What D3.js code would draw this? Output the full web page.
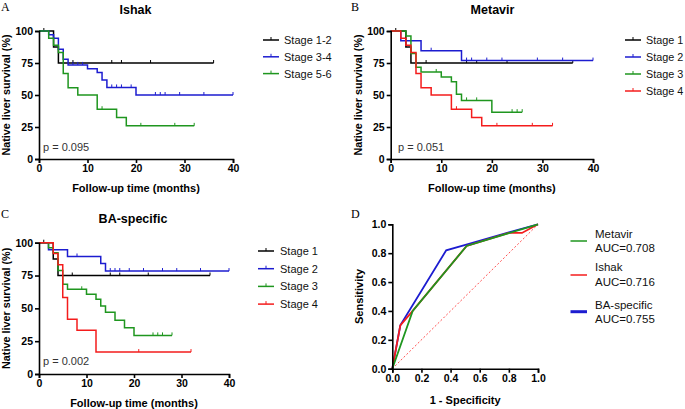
<!DOCTYPE html>
<html><head><meta charset="utf-8">
<script src="https://cdn.jsdelivr.net/npm/d3@7"></script>
<style>
body{margin:0;background:#fff;}
svg{display:block;font-family:"Liberation Sans",Arial,sans-serif;}
</style></head><body>
<svg id="c" width="685" height="409"></svg>
<script>
// ---------- DATA ----------
const kmXTicks = [0, 10, 20, 30, 40];
const kmYTicks = [0, 25, 50, 75, 100];
const rocTicks = [0, 0.2, 0.4, 0.6, 0.8, 1.0];

// Panel A: Ishak
const ishakNames = ["Stage 1-2", "Stage 3-4", "Stage 5-6"];
const ishak12Steps = [[0,100],[3,87.5],[4,75]];
const ishak12Censor = [1,7,15,17,23];
const ishak12End = 36;
const ishak34Steps = [[0,100],[2,97.1],[3,94.3],[4,85.7],[5,77.9],[6,73.5],[10,70.6],[12,67.6],[13,61.8],[14,55.9],[20,50]];
const ishak34Censor = [7,8,9,15,16,17,19,24,25,26,29,34];
const ishak34End = 40;
const ishak56Steps = [[0,100],[2,94.4],[3,88.9],[4,83.3],[5,66.7],[6,55.6],[8,50],[12,38.9],[16,32.4],[18,25.9]];
const ishak56Censor = [13,21,28];
const ishak56End = 32;
const ishakP = "p = 0.095";

// Panel B: Metavir
const metavirNames = ["Stage 1", "Stage 2", "Stage 3", "Stage 4"];
const metavir1Steps = [[0,100],[3,87.5],[4,75]];
const metavir1Censor = [1,7,15,17,23];
const metavir1End = 36;
const metavir2Steps = [[0,100],[2,92.3],[6,84.6],[14,76.9]];
const metavir2Censor = [8,15,16,19,22,29,34];
const metavir2End = 40;
const metavir3Steps = [[0,100],[3,96],[4,82.5],[5,71.6],[6,68],[10,64],[12,60.4],[13,50.5],[14,45.8],[20,36.6]];
const metavir3Censor = [9,15,17,24,25];
const metavir3End = 26;
const metavir4Steps = [[0,100],[2,94.4],[3,88.9],[4,83.3],[5,66.7],[6,55.6],[8,50],[12,38.9],[16,32.4],[18,25.9]];
const metavir4Censor = [13,21,28];
const metavir4End = 32;
const metavirP = "p = 0.051";

// Panel C: BA-specific
const baNames = ["Stage 1", "Stage 2", "Stage 3", "Stage 4"];
const ba1Steps = [[0,100],[3,87.5],[4,75]];
const ba1Censor = [1,7,15,17,23];
const ba1End = 36;
const ba2Steps = [[0,100],[2,94.7],[6,89.5],[13,84.2],[14,78.4]];
const ba2Censor = [8,15,16,17,19,22,26,29,34];
const ba2End = 40;
const ba3Steps = [[0,100],[2,96.2],[3,92.3],[4,78.8],[5,68.3],[6,64.5],[10,60.7],[12,56.9],[13,51.8],[14,47],[16,40.9],[18,35.3],[20,29.4]];
const ba3Censor = [9,24,25,26];
const ba3End = 28;
const ba4Steps = [[0,100],[3,91.7],[4,83.3],[5,58.3],[6,41.7],[8,33.3],[12,16.7]];
const ba4Censor = [21];
const ba4End = 32;
const baP = "p = 0.002";

// Panel D: ROC
const rocNames = ["Metavir", "Ishak", "BA-specific"];
const rocAUC = ["AUC=0.708", "AUC=0.716", "AUC=0.755"];
const rocMetavir = [[0,0],[0.14,0.40],[0.51,0.85],[1,1]];
const rocIshak = [[0,0],[0.055,0.30],[0.14,0.40],[0.51,0.85],[0.80,0.94],[0.89,0.94],[1,1]];
const rocBA = [[0,0],[0.055,0.30],[0.37,0.82],[0.52,0.862],[0.80,0.945],[1,1]];
const rocDiag = [[0,0],[1,1]];

// ---------- STYLE ----------
const BLACK = "#000000", BLUE = "#1c1cd0", GREEN = "#1f961f", RED = "#f41c1c";
const svg = d3.select("#c");

function styleAxis(g){
  g.selectAll(".domain").attr("stroke","#000").attr("stroke-width",1.6);
  g.selectAll(".tick line").attr("stroke","#000").attr("stroke-width",1.6);
  g.selectAll(".tick text").attr("font-size","10.5px").attr("font-weight","bold").attr("fill","#000");
}

function valueAt(steps, t){
  let v = steps[0][1];
  for (const s of steps){ if (s[0] <= t) v = s[1]; }
  return v;
}

function drawKM(cfg){
  const x = d3.scaleLinear().domain([0,40]).range([cfg.x0, cfg.x1]);
  const y = d3.scaleLinear().domain([0,100]).range([cfg.y0, cfg.y1]);
  const g = svg.append("g");
  const line = d3.line().x(d=>x(d[0])).y(d=>y(d[1])).curve(d3.curveStepAfter);
  cfg.series.forEach(s=>{
    const pts = s.steps.concat([[s.end, s.steps[s.steps.length-1][1]]]);
    g.append("path").attr("d", line(pts)).attr("fill","none")
      .attr("stroke", s.color).attr("stroke-width",1.5);
    s.censor.concat([s.end]).forEach(t=>{
      const v = valueAt(s.steps, t);
      g.append("line").attr("x1",x(t)).attr("x2",x(t)).attr("y1",y(v)).attr("y2",y(v)-3)
        .attr("stroke", s.color).attr("stroke-width",1);
    });
  });
  const ax = g.append("g").attr("transform",`translate(0,${cfg.y0})`)
    .call(d3.axisBottom(x).tickValues(kmXTicks).tickSize(4).tickPadding(2));
  styleAxis(ax);
  const ay = g.append("g").attr("transform",`translate(${cfg.x0},0)`)
    .call(d3.axisLeft(y).tickValues(kmYTicks).tickSize(4).tickPadding(2));
  styleAxis(ay);
  g.append("text").attr("x",cfg.titleX).attr("y",cfg.titleY).attr("text-anchor","middle")
    .attr("font-size","12.5px").attr("font-weight","bold").text(cfg.title);
  g.append("text").attr("x",cfg.letterX).attr("y",cfg.letterY)
    .attr("font-family","'Liberation Serif','Times New Roman',serif").attr("font-size","12px").text(cfg.letter);
  g.append("text").attr("x",(cfg.x0+cfg.x1)/2).attr("y",cfg.xlabY).attr("text-anchor","middle")
    .attr("font-size","11px").attr("font-weight","bold").text("Follow-up time (months)");
  g.append("text").attr("transform",`translate(${cfg.ylabX},${(cfg.y0+cfg.y1)/2}) rotate(-90)`)
    .attr("text-anchor","middle").attr("font-size","10.8px").attr("font-weight","bold").text("Native liver survival (%)");
  g.append("text").attr("x",cfg.pX).attr("y",cfg.pY).attr("font-size","11px").attr("fill","#333").text(cfg.p);
  cfg.series.forEach((s,i)=>{
    const ly = cfg.legY + i*cfg.legDy;
    g.append("line").attr("x1",cfg.legX).attr("x2",cfg.legX+cfg.legLen).attr("y1",ly).attr("y2",ly)
      .attr("stroke",s.color).attr("stroke-width",1.5);
    g.append("line").attr("x1",cfg.legX+cfg.legLen/2).attr("x2",cfg.legX+cfg.legLen/2).attr("y1",ly).attr("y2",ly-3)
      .attr("stroke",s.color).attr("stroke-width",1);
    g.append("text").attr("x",cfg.legTextX).attr("y",ly).attr("dy","0.36em")
      .attr("font-size",cfg.legFont).attr("fill","#111").text(s.name);
  });
}

drawKM({x0:39,x1:233,y0:159,y1:31,title:"Ishak",titleX:135.5,titleY:13.5,letter:"A",letterX:1,letterY:11,
  xlabY:191.5,ylabX:10,p:ishakP,pX:43,pY:151,legX:263,legLen:16,legTextX:284,legFont:"11px",legY:40,legDy:16.8,
  series:[
    {name:ishakNames[0],color:BLACK,steps:ishak12Steps,censor:ishak12Censor,end:ishak12End},
    {name:ishakNames[1],color:BLUE,steps:ishak34Steps,censor:ishak34Censor,end:ishak34End},
    {name:ishakNames[2],color:GREEN,steps:ishak56Steps,censor:ishak56Censor,end:ishak56End}]});

drawKM({x0:390.7,x1:593,y0:159,y1:31,title:"Metavir",titleX:492.5,titleY:13.5,letter:"B",letterX:351,letterY:11,
  xlabY:192,ylabX:361.5,p:metavirP,pX:398,pY:151,legX:625,legLen:16,legTextX:646,legFont:"10.8px",legY:40,legDy:17,
  series:[
    {name:metavirNames[0],color:BLACK,steps:metavir1Steps,censor:metavir1Censor,end:metavir1End},
    {name:metavirNames[1],color:BLUE,steps:metavir2Steps,censor:metavir2Censor,end:metavir2End},
    {name:metavirNames[2],color:GREEN,steps:metavir3Steps,censor:metavir3Censor,end:metavir3End},
    {name:metavirNames[3],color:RED,steps:metavir4Steps,censor:metavir4Censor,end:metavir4End}]});

drawKM({x0:39,x1:229,y0:374,y1:242.7,title:"BA-specific",titleX:133,titleY:223.3,letter:"C",letterX:1,letterY:218,
  xlabY:406.5,ylabX:10,p:baP,pX:43,pY:364.5,legX:258,legLen:16,legTextX:280,legFont:"11px",legY:251,legDy:17.7,
  series:[
    {name:baNames[0],color:BLACK,steps:ba1Steps,censor:ba1Censor,end:ba1End},
    {name:baNames[1],color:BLUE,steps:ba2Steps,censor:ba2Censor,end:ba2End},
    {name:baNames[2],color:GREEN,steps:ba3Steps,censor:ba3Censor,end:ba3End},
    {name:baNames[3],color:RED,steps:ba4Steps,censor:ba4Censor,end:ba4End}]});

(function(){
  const x0=392.3,x1=538,y0=368.7,y1=224.3;
  const x = d3.scaleLinear().domain([0,1]).range([x0,x1]);
  const y = d3.scaleLinear().domain([0,1]).range([y0,y1]);
  const g = svg.append("g");
  const line = d3.line().x(d=>x(d[0])).y(d=>y(d[1]));
  g.append("path").attr("d",line(rocDiag)).attr("stroke","#ff5050").attr("stroke-width",1)
    .attr("stroke-dasharray","2,2").attr("fill","none");
  g.append("path").attr("d",line(rocBA)).attr("stroke",BLUE).attr("stroke-width",1.8).attr("fill","none");
  g.append("path").attr("d",line(rocIshak)).attr("stroke",RED).attr("stroke-width",1.8).attr("fill","none");
  g.append("path").attr("d",line(rocMetavir)).attr("stroke",GREEN).attr("stroke-width",1.8).attr("fill","none");
  const fmt = d3.format(".1f");
  const ax = g.append("g").attr("transform",`translate(0,${y0})`)
    .call(d3.axisBottom(x).tickValues(rocTicks).tickFormat(fmt).tickSize(4).tickPadding(2));
  styleAxis(ax);
  const ay = g.append("g").attr("transform",`translate(${x0},0)`)
    .call(d3.axisLeft(y).tickValues(rocTicks).tickFormat(fmt).tickSize(4).tickPadding(2));
  styleAxis(ay);
  g.append("text").attr("x",351).attr("y",218)
    .attr("font-family","'Liberation Serif','Times New Roman',serif").attr("font-size","12px").text("D");
  g.append("text").attr("x",(x0+x1)/2).attr("y",403.5).attr("text-anchor","middle")
    .attr("font-size","11px").attr("font-weight","bold").text("1 - Specificity");
  g.append("text").attr("transform",`translate(363,${(y0+y1)/2}) rotate(-90)`)
    .attr("text-anchor","middle").attr("font-size","11px").attr("font-weight","bold").text("Sensitivity");
  const legColors = [GREEN, RED, BLUE];
  const legW = [1.5, 1.5, 3];
  const lineY = [241, 275, 311.7];
  const nameY = [237.7, 271, 309.3];
  const aucY = [252.3, 286, 323.3];
  rocNames.forEach((n,i)=>{
    g.append("line").attr("x1",570.5).attr("x2",587).attr("y1",lineY[i]).attr("y2",lineY[i])
      .attr("stroke",legColors[i]).attr("stroke-width",legW[i]);
    g.append("text").attr("x",595).attr("y",nameY[i]).attr("font-size","11.5px").attr("fill","#111").text(n);
    g.append("text").attr("x",595).attr("y",aucY[i]).attr("font-size","11.5px").attr("fill","#111").text(rocAUC[i]);
  });
})();
</script>
</body></html>
